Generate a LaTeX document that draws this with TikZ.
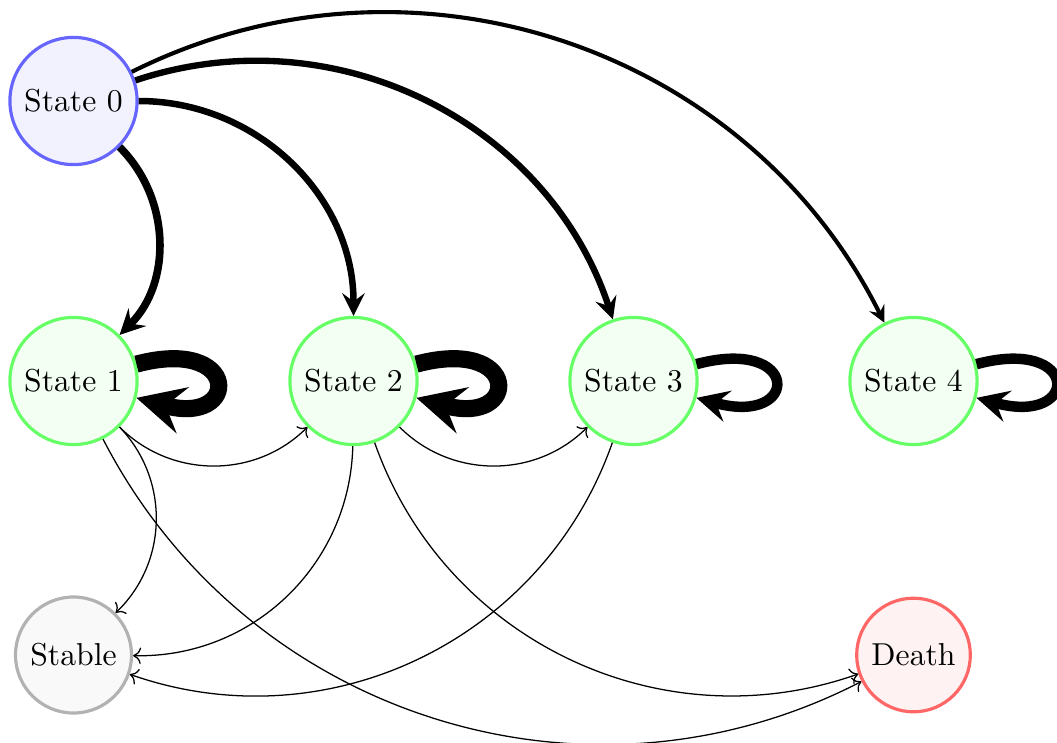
\documentclass[tikz,border=0pt]{standalone}
\usetikzlibrary{arrows.meta}
\begin{document}
\begin{tikzpicture}[x=0.3155pt,y=-0.3155pt,
  state/.style={circle,draw,line width=1pt},
  s0/.style={state,draw=blue!60,fill=blue!5},
  sx/.style={state,draw=green!60,fill=green!5},
  stab/.style={state,draw=gray!60,fill=gray!5},
  dead/.style={state,draw=red!60,fill=red!5},
  heavy/.style n args={3}{line width=#1,-{Stealth[length=#2,width=#2,inset=#3,line width=0pt]}},
  light/.style={->,line width=0.4pt}]
\useasboundingbox (0,0) rectangle (1057,742);
\node[s0] (s0) at (73.5,101) {State 0};
\node[sx] (s1) at (73.5,381) {State 1};
\node[sx] (s2) at (353.5,381) {State 2};
\node[sx] (s3) at (633.5,381) {State 3};
\node[sx] (s4) at (913.5,381) {State 4};
\node[stab] (st) at (73.5,655) {Stable};
\node[dead] (de) at (913.5,655) {Death};
% heavy transitions
\draw[heavy={2.4pt}{8pt}{3pt}] (s0) to[bend left=45] (s1);
\draw[heavy={2.05pt}{7.2pt}{2.7pt}] (s0) to[bend left=45] (s2);
\draw[heavy={2pt}{7pt}{2.6pt}] (s0) to[bend left=45] (s3);
\draw[heavy={1.3pt}{5.4pt}{2pt}] (s0) to[bend left=45] (s4);
\draw[heavy={5.4pt}{15.2pt}{5.7pt}] (s1.15) .. controls +(-15:108) and +(15:108) .. (s1.-15);
\draw[heavy={5.4pt}{15.2pt}{5.7pt}] (s2.15) .. controls +(-15:108) and +(15:108) .. (s2.-15);
\draw[heavy={3.3pt}{10.2pt}{3.8pt}] (s3.15) .. controls +(-15:108) and +(15:108) .. (s3.-15);
\draw[heavy={3.3pt}{10.2pt}{3.8pt}] (s4.15) .. controls +(-15:108) and +(15:108) .. (s4.-15);
% light transitions
\draw[light] (s1) to[bend right=45] (s2);
\draw[light] (s2) to[bend right=45] (s3);
\draw[light] (s1) to[bend left=45] (st);
\draw[light] (s2) to[bend left=45] (st);
\draw[light] (s3) to[bend left=45] (st);
\draw[light] (s1) to[bend right=45] (de);
\draw[light] (s2) to[bend right=45] (de);
\end{tikzpicture}
\end{document}
